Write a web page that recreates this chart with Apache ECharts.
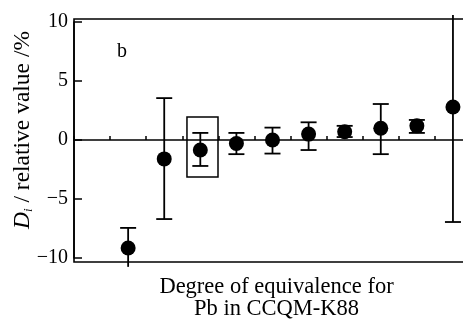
<!DOCTYPE html>
<html>
<head>
<meta charset="utf-8">
<script src="https://cdn.jsdelivr.net/npm/echarts@6/dist/echarts.min.js"></script>
<style>
  html, body { margin: 0; padding: 0; background: #fff; }
  #main { width: 463px; height: 320px; }
</style>
</head>
<body>
<div id="main"></div>
<script type="text/javascript">
    // 实验室位置（类别带中心）与 Di 值
    var labPos = [1.5, 2.5, 3.5, 4.5, 5.5, 6.5, 7.5, 8.5, 9.5, 10.5];
    var diValue = [-9.15, -1.6, -0.85, -0.3, 0.0, 0.5, 0.7, 1.0, 1.2, 2.8];
    var errLow = [-10.75, -6.7, -2.2, -1.2, -1.15, -0.85, 0.25, -1.2, 0.6, -6.95];
    var errHigh = [-7.45, 3.55, 0.6, 0.6, 1.05, 1.5, 1.2, 3.05, 1.7, 10.6];
    var yTicks = [-10, -5, 0, 5, 10];
    // 方框标注的范围 [x1, y1, x2, y2]
    var boxRange = [3.13, 1.95, 3.99, -3.14];

    var serif = 'Liberation Serif';

    // 组装误差棒数据
    var barData = [];
    var dotData = [];
    for (var i = 0; i < labPos.length; i++) {
        barData.push([labPos[i], errLow[i], errHigh[i]]);
        dotData.push([labPos[i], diValue[i]]);
    }

    var myChart = echarts.init(document.getElementById('main'));

    var option = {
        animation: false,
        grid: [
            { left: 74, top: 22, width: 397, height: 236, show: false, outerBoundsMode: 'none' },
            { left: 74, top: 19, width: 397, height: 243, show: true, outerBoundsMode: 'none',
              borderColor: '#000', borderWidth: 1.6, backgroundColor: 'transparent' }
        ],
        xAxis: [
            {
                gridIndex: 0, type: 'value', min: 0, max: 11, interval: 1,
                axisLine: { onZero: true, lineStyle: { color: '#000', width: 1.6 } },
                axisTick: { inside: true, length: 4, lineStyle: { color: '#000', width: 1.5 } },
                axisLabel: { show: false },
                splitLine: { show: false }
            },
            {
                gridIndex: 1, type: 'value', min: 0, max: 1,
                axisLine: { show: false }, axisTick: { show: false },
                axisLabel: { show: false }, splitLine: { show: false },
                name: 'Degree of equivalence for\nPb in CCQM-K88',
                nameLocation: 'middle', nameGap: 14,
                nameTextStyle: {
                    fontFamily: serif, fontSize: 22.5, color: '#000',
                    lineHeight: 22, verticalAlign: 'top', padding: [0, 0, 0, 8]
                }
            }
        ],
        yAxis: [
            {
                gridIndex: 0, type: 'value', min: -10, max: 10, interval: 5,
                axisLine: { show: true, onZero: false, lineStyle: { color: '#000', width: 1.6 } },
                axisTick: { show: true, inside: true, length: 8, lineStyle: { color: '#000', width: 1.5 } },
                axisLabel: {
                    fontFamily: serif, fontSize: 20, color: '#000', margin: 6,
                    formatter: function (v) { return String(v).replace('-', '\u2212'); }
                },
                splitLine: { show: false },
                name: '{it|D}{sub|i}{n| / relative value /%}',
                nameLocation: 'middle', nameRotate: 90, nameGap: 39,
                nameMoveOverlap: false,
                nameTextStyle: {
                    color: '#000',
                    padding: [0, 0, 0, 20],
                    rich: {
                        it: { fontFamily: serif, fontStyle: 'italic', fontSize: 23.5, color: '#000' },
                        sub: { fontFamily: serif, fontStyle: 'italic', fontSize: 13, color: '#000', verticalAlign: 'bottom', padding: [10, 0, 0, 0] },
                        n: { fontFamily: serif, fontSize: 23.5, color: '#000' }
                    }
                }
            },
            {
                gridIndex: 1, type: 'value', min: 0, max: 1, show: false
            }
        ],
        graphic: [
            { type: 'text', left: 117, top: 42,
              style: { text: 'b', font: '20px "Liberation Serif"', fill: '#000' } }
        ],
        series: [
            {
                type: 'custom',
                xAxisIndex: 0, yAxisIndex: 0,
                clip: false,
                data: barData,
                renderItem: function (params, api) {
                    var x = api.value(0);
                    var lo = api.value(1);
                    var hi = api.value(2);
                    var pLo = api.coord([x, lo]);
                    var pHi = api.coord([x, hi]);
                    var cap = 8;
                    var style = { stroke: '#000', lineWidth: 1.8 };
                    var children = [
                        { type: 'line', shape: { x1: pLo[0], y1: pLo[1], x2: pHi[0], y2: pHi[1] }, style: style }
                    ];
                    // 超出坐标框的端点不画横帽
                    if (Math.abs(hi) <= 10.3) {
                        children.push({ type: 'line', shape: { x1: pHi[0] - cap, y1: pHi[1], x2: pHi[0] + cap, y2: pHi[1] }, style: style });
                    }
                    if (Math.abs(lo) <= 10.3) {
                        children.push({ type: 'line', shape: { x1: pLo[0] - cap, y1: pLo[1], x2: pLo[0] + cap, y2: pLo[1] }, style: style });
                    }
                    return { type: 'group', children: children };
                },
                markArea: {
                    silent: true,
                    itemStyle: { color: 'rgba(0,0,0,0)', borderColor: '#000', borderWidth: 1.5 },
                    data: [[
                        { coord: [boxRange[0], boxRange[1]] },
                        { coord: [boxRange[2], boxRange[3]] }
                    ]]
                },
                z: 2
            },
            {
                type: 'scatter',
                xAxisIndex: 0, yAxisIndex: 0,
                data: dotData,
                symbol: 'circle',
                symbolSize: 15,
                clip: false,
                itemStyle: { color: '#000', opacity: 1 },
                z: 3
            }
        ]
    };
    myChart.setOption(option);
</script>
</body>
</html>
